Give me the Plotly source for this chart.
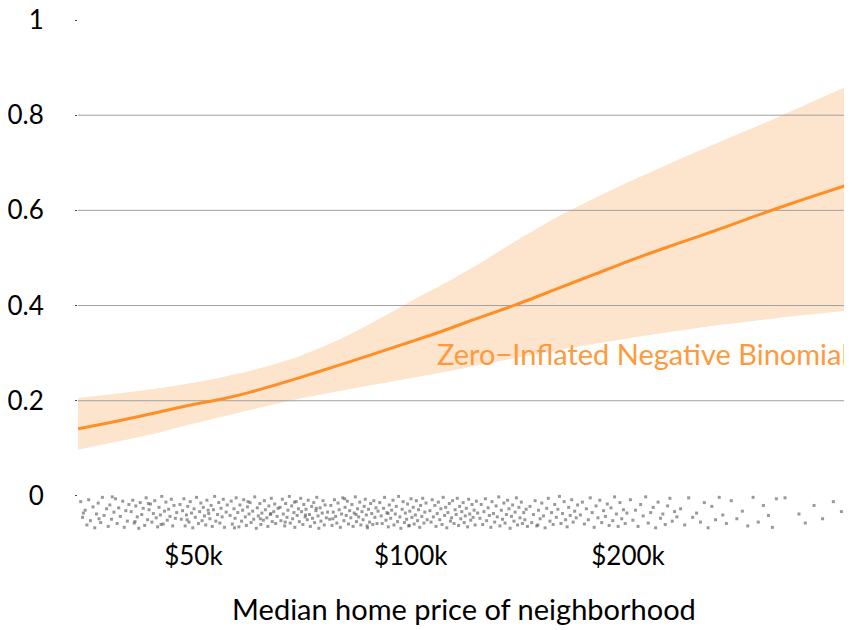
import math
import plotly.graph_objects as go

# ---- data ----
price_k = [34.6, 40, 45, 50, 55, 60, 70, 80, 90, 100, 110, 120, 140, 160, 180, 200, 225, 250, 275, 300, 350, 406]
fit_mean = [0.141, 0.160, 0.177, 0.192, 0.204, 0.218, 0.248, 0.276, 0.301, 0.324, 0.345, 0.366, 0.402, 0.436, 0.466, 0.493, 0.521, 0.545, 0.567, 0.588, 0.623, 0.655]
fit_upper = [0.206, 0.217, 0.227, 0.238, 0.250, 0.263, 0.293, 0.330, 0.370, 0.409, 0.442, 0.474, 0.536, 0.587, 0.626, 0.659, 0.694, 0.724, 0.751, 0.775, 0.820, 0.863]
fit_lower = [0.097, 0.117, 0.134, 0.152, 0.167, 0.181, 0.204, 0.221, 0.235, 0.248, 0.259, 0.270, 0.290, 0.306, 0.320, 0.331, 0.343, 0.353, 0.361, 0.368, 0.380, 0.390]

rug_price_k = [
    34.9,35.1,35.4,35.6,35.8,36.0,36.3,36.5,36.7,36.9,37.2,37.4,37.6,37.9,38.1,38.3,38.5,38.8,39.0,39.2,39.4,39.6,39.9,40.1,40.3,40.5,40.7,35.2,37.0,38.6,
    41.0,41.2,41.4,41.6,41.8,42.0,42.2,42.4,42.6,42.8,43.0,43.2,43.4,43.6,43.8,44.0,44.2,44.4,44.6,44.8,45.0,45.2,45.4,45.6,45.8,46.0,46.2,46.4,46.6,46.8,47.0,47.2,47.4,41.5,43.3,45.1,
    47.9,48.1,48.3,48.5,48.7,48.9,49.1,49.3,49.5,49.7,49.9,50.1,50.3,50.5,50.8,51.0,51.2,51.4,51.6,51.8,52.0,52.2,52.5,52.7,52.9,53.1,53.3,53.5,53.7,54.0,54.2,54.4,54.6,54.8,55.0,55.2,55.5,55.7,49.0,52.4,
    56.2,56.4,56.6,56.9,57.1,57.3,57.6,57.8,58.0,58.3,58.5,58.7,59.0,59.2,59.4,59.7,59.9,60.1,60.4,60.6,60.8,61.1,61.3,61.5,61.8,62.0,62.2,62.5,62.7,62.9,63.2,63.4,63.6,63.9,64.1,64.3,64.6,64.8,65.0,65.3,65.5,57.0,59.5,61.9,64.0,
    65.9,66.1,66.4,66.6,66.9,67.1,67.4,67.6,67.9,68.1,68.4,68.6,68.9,69.1,69.4,69.6,69.9,70.1,70.4,70.6,70.9,71.1,71.4,71.6,71.9,72.1,72.4,72.6,72.9,73.1,73.4,73.6,73.9,74.1,74.4,74.6,74.9,75.1,75.4,75.6,75.9,76.1,76.4,76.7,67.0,69.0,71.5,74.0,
    77.2,77.5,77.8,78.1,78.4,78.7,79.0,79.3,79.6,79.9,80.2,80.5,80.8,81.1,81.4,81.7,82.0,82.3,82.6,82.9,83.2,83.5,83.8,84.1,84.4,84.7,85.0,85.3,85.6,85.9,86.2,86.5,86.8,87.1,87.4,87.7,88.0,88.3,88.6,88.9,89.2,89.5,89.8,90.1,78.0,81.0,84.0,87.0,
    90.6,91.0,91.3,91.7,92.0,92.4,92.7,93.1,93.4,93.8,94.1,94.5,94.8,95.2,95.5,95.9,96.2,96.6,96.9,97.3,97.6,98.0,98.3,98.7,99.0,99.4,99.7,100.1,100.4,100.8,101.1,101.5,101.8,102.2,102.5,102.9,103.2,103.6,103.9,104.3,104.6,105.0,105.4,93.0,99.5,
    106.3,106.7,107.1,107.5,108.0,108.4,108.8,109.2,109.7,110.1,110.5,110.9,111.4,111.8,112.2,112.6,113.1,113.5,113.9,114.3,114.8,115.2,115.6,116.0,116.5,116.9,117.3,117.7,118.2,118.6,119.0,119.4,119.9,120.3,120.7,121.1,121.6,122.0,122.4,122.8,123.3,123.8,
    124.7,125.2,125.8,126.3,126.9,127.4,128.0,128.5,129.1,129.6,130.2,130.7,131.3,131.8,132.4,132.9,133.5,134.0,134.6,135.1,135.7,136.2,136.8,137.3,137.9,138.4,139.0,139.5,140.1,140.6,141.2,141.7,142.3,142.8,143.4,143.9,144.5,145.1,
    146.3,147.1,147.9,148.7,149.5,150.3,151.1,151.9,152.7,153.5,154.3,155.1,155.9,156.7,157.5,158.3,159.1,159.9,160.7,161.5,162.3,163.1,163.9,164.7,165.5,166.3,167.1,167.9,168.7,169.5,170.3,150.0,
    171.8,172.9,174.0,175.1,176.2,177.3,178.4,179.5,180.6,181.7,182.8,183.9,185.0,186.1,187.2,188.3,189.4,190.5,191.6,192.7,193.8,194.9,196.0,197.1,198.2,199.3,
    201.5,203.1,204.8,206.5,208.2,209.9,211.6,213.3,215.0,216.7,218.4,220.1,221.8,223.5,225.2,226.9,228.6,230.3,232.0,233.7,
    236.5,239.6,242.7,245.8,248.9,252.0,255.1,258.2,261.3,264.4,267.5,270.6,273.7,
    278,283,288,293,298,303,308,313,317,321,
    330,345,352,362,372,385,395,402,
]
rug_jitter = [
    -0.012,-0.045,-0.030,-0.061,-0.008,-0.052,-0.023,-0.067,-0.038,-0.015,-0.056,-0.003,-0.041,-0.027,-0.064,-0.019,-0.049,-0.034,-0.006,-0.058,-0.025,-0.043,-0.011,-0.066,-0.031,-0.053,-0.018,-0.036,-0.048,-0.002,
    -0.033,-0.009,-0.057,-0.021,-0.044,-0.068,-0.014,-0.039,-0.026,-0.062,-0.004,-0.050,-0.029,-0.017,-0.055,-0.037,-0.010,-0.046,-0.065,-0.024,-0.040,-0.001,-0.059,-0.032,-0.013,-0.051,-0.028,-0.043,-0.007,-0.063,-0.020,-0.047,-0.035,-0.054,-0.016,-0.060,
    -0.018,-0.049,-0.031,-0.006,-0.063,-0.040,-0.022,-0.055,-0.012,-0.036,-0.067,-0.027,-0.045,-0.003,-0.058,-0.033,-0.015,-0.052,-0.024,-0.042,-0.061,-0.009,-0.037,-0.048,-0.020,-0.064,-0.029,-0.001,-0.053,-0.039,-0.014,-0.057,-0.026,-0.044,-0.007,-0.066,-0.034,-0.019,-0.050,-0.030,
    -0.041,-0.011,-0.059,-0.027,-0.047,-0.004,-0.035,-0.065,-0.019,-0.053,-0.030,-0.008,-0.044,-0.062,-0.023,-0.038,-0.014,-0.056,-0.032,-0.049,-0.002,-0.068,-0.025,-0.042,-0.016,-0.060,-0.036,-0.051,-0.010,-0.029,-0.046,-0.064,-0.021,-0.039,-0.005,-0.054,-0.033,-0.017,-0.058,-0.043,-0.026,-0.067,-0.012,-0.048,-0.037,
    -0.024,-0.052,-0.007,-0.038,-0.063,-0.016,-0.045,-0.030,-0.001,-0.057,-0.021,-0.048,-0.035,-0.066,-0.012,-0.041,-0.027,-0.054,-0.005,-0.033,-0.060,-0.018,-0.044,-0.028,-0.050,-0.009,-0.039,-0.064,-0.022,-0.047,-0.014,-0.056,-0.031,-0.003,-0.042,-0.068,-0.025,-0.053,-0.036,-0.010,-0.061,-0.019,-0.046,-0.034,-0.055,-0.013,-0.040,-0.026,
    -0.049,-0.020,-0.062,-0.034,-0.008,-0.043,-0.057,-0.015,-0.029,-0.066,-0.038,-0.004,-0.052,-0.024,-0.041,-0.011,-0.059,-0.031,-0.046,-0.018,-0.064,-0.036,-0.002,-0.054,-0.027,-0.044,-0.013,-0.061,-0.033,-0.050,-0.022,-0.007,-0.040,-0.067,-0.028,-0.055,-0.016,-0.037,-0.060,-0.010,-0.045,-0.025,-0.058,-0.032,-0.048,-0.006,-0.039,-0.063,
    -0.014,-0.042,-0.058,-0.026,-0.003,-0.051,-0.035,-0.065,-0.019,-0.047,-0.030,-0.009,-0.061,-0.038,-0.022,-0.054,-0.001,-0.044,-0.068,-0.028,-0.012,-0.056,-0.036,-0.049,-0.017,-0.063,-0.032,-0.006,-0.045,-0.024,-0.059,-0.040,-0.010,-0.052,-0.029,-0.066,-0.020,-0.043,-0.005,-0.057,-0.034,-0.015,-0.050,-0.037,-0.062,
    -0.031,-0.055,-0.008,-0.044,-0.020,-0.064,-0.037,-0.013,-0.050,-0.027,-0.060,-0.003,-0.041,-0.024,-0.067,-0.035,-0.016,-0.053,-0.046,-0.010,-0.058,-0.029,-0.039,-0.005,-0.062,-0.022,-0.048,-0.033,-0.014,-0.056,-0.042,-0.026,-0.065,-0.007,-0.038,-0.051,-0.018,-0.045,-0.030,-0.061,-0.011,-0.036,
    -0.047,-0.018,-0.060,-0.033,-0.006,-0.052,-0.025,-0.041,-0.066,-0.012,-0.037,-0.055,-0.021,-0.044,-0.002,-0.063,-0.030,-0.049,-0.015,-0.057,-0.039,-0.009,-0.027,-0.068,-0.043,-0.019,-0.053,-0.034,-0.004,-0.061,-0.024,-0.046,-0.013,-0.058,-0.035,-0.050,-0.028,-0.064,
    -0.022,-0.056,-0.039,-0.010,-0.063,-0.030,-0.048,-0.015,-0.042,-0.067,-0.026,-0.005,-0.053,-0.035,-0.060,-0.018,-0.045,-0.028,-0.001,-0.058,-0.037,-0.012,-0.050,-0.065,-0.024,-0.041,-0.008,-0.055,-0.032,-0.046,-0.019,-0.061,
    -0.040,-0.013,-0.059,-0.027,-0.050,-0.004,-0.035,-0.066,-0.021,-0.046,-0.009,-0.056,-0.031,-0.043,-0.017,-0.062,-0.025,-0.052,-0.002,-0.038,-0.064,-0.014,-0.048,-0.029,-0.058,-0.036,
    -0.008,-0.051,-0.030,-0.064,-0.018,-0.042,-0.002,-0.057,-0.035,-0.024,-0.067,-0.013,-0.047,-0.038,-0.060,-0.021,-0.005,-0.053,-0.033,-0.044,
    -0.027,-0.061,-0.004,-0.045,-0.036,-0.055,-0.014,-0.067,-0.022,-0.050,-0.003,-0.040,-0.058,
    -0.010,-0.048,-0.032,-0.063,-0.003,-0.055,-0.020,-0.041,-0.066,-0.006,
    -0.004,-0.038,-0.057,-0.020,-0.048,-0.012,-0.033,-0.046,
]

x_tick_vals = [50, 100, 200]
x_tick_text = ["$50k", "$100k", "$200k"]
y_tick_vals = [0, 0.2, 0.4, 0.6, 0.8, 1]
y_tick_text = ["0", "0.2", "0.4", "0.6", "0.8", "1"]
grid_vals = [0.2, 0.4, 0.6, 0.8]
series_label = "Zero\u2212Inflated Negative Binomial"
x_title = "Median home price of neighborhood"

# ---- style ----
FONT = "Lato, 'Open Sans', sans-serif"
ORANGE = "#FF8E26"
BAND = "#FDE5CD"
x_lo, x_hi = price_k[0], price_k[-1]

fig = go.Figure()

# confidence band (lower edge, then upper edge filled down to it)
fig.add_trace(go.Scatter(
    x=price_k, y=fit_lower, mode="lines",
    line=dict(width=0, color=BAND, shape="spline", smoothing=0.8),
    hoverinfo="skip", showlegend=False,
))
fig.add_trace(go.Scatter(
    x=price_k, y=fit_upper, mode="lines",
    fill="tonexty", fillcolor=BAND,
    line=dict(width=0, color=BAND, shape="spline", smoothing=0.8),
    hoverinfo="skip", showlegend=False,
))

# gridlines drawn above the band
for g in grid_vals:
    fig.add_trace(go.Scatter(
        x=[x_lo, x_hi], y=[g, g], mode="lines",
        line=dict(color="#a0a0a0", width=1),
        hoverinfo="skip", showlegend=False,
    ))

# rug of observations
fig.add_trace(go.Scatter(
    x=rug_price_k, y=rug_jitter, mode="markers",
    marker=dict(symbol="square", size=3, color="#5a5a5a", opacity=0.62, line=dict(width=0)),
    hoverinfo="skip", showlegend=False,
))

# fitted curve
fig.add_trace(go.Scatter(
    x=price_k, y=fit_mean, mode="lines",
    line=dict(color=ORANGE, width=3, shape="spline", smoothing=0.8),
    showlegend=False,
))

fig.add_annotation(
    x=1, xref="paper", xanchor="right",
    y=0.3, yref="y", yanchor="middle",
    text=series_label, showarrow=False,
    font=dict(family=FONT, size=29, color="#FF9A3C"),
)

# page body has an 8px margin, so the figure is sized to fit inside the window
fig.update_layout(
    width=844, height=622,
    margin=dict(l=70, r=2, t=12, b=96, autoexpand=False),
    paper_bgcolor="white", plot_bgcolor="white",
    font=dict(family=FONT, size=26, color="black"),
    showlegend=False,
)
fig.update_xaxes(
    type="log", range=[math.log10(x_lo), math.log10(x_hi)],
    tickvals=x_tick_vals, ticktext=x_tick_text,
    showgrid=False, zeroline=False, showline=False, ticks="",
    ticklabelstandoff=4, automargin=False,
    title=dict(text=x_title, font=dict(family=FONT, size=29), standoff=29),
    tickfont=dict(size=26),
)
fig.update_yaxes(
    range=[-0.08, 1.0],
    tickvals=y_tick_vals, ticktext=y_tick_text,
    showgrid=False, zeroline=False, showline=False,
    ticks="outside", ticklen=2, tickcolor="#444", tickwidth=1,
    ticklabelstandoff=26, ticklabeloverflow="allow", automargin=False,
    tickfont=dict(size=26),
)

fig.write_html("out.html")
